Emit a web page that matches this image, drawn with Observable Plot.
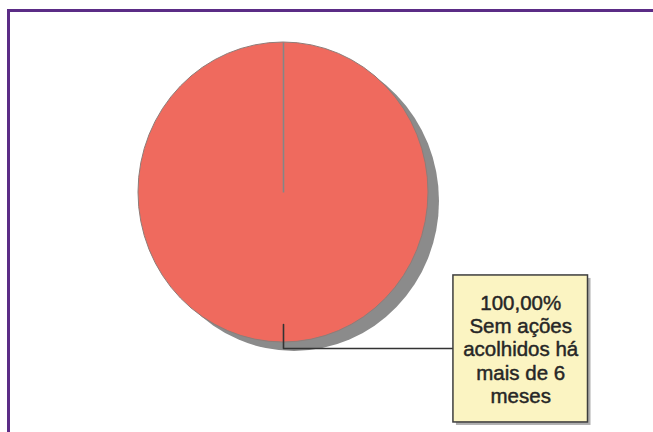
<!DOCTYPE html>
<html><head><meta charset="utf-8">
<script src="https://cdn.jsdelivr.net/npm/d3@7"></script>
<script src="https://cdn.jsdelivr.net/npm/@observablehq/plot@0.6"></script>
<style>
html,body{margin:0;padding:0;background:#fff;overflow:hidden;width:653px;height:432px;}
#wrap{position:relative;width:653px;height:432px;overflow:hidden;}
#chart{position:absolute;left:0;top:0;}
#border{position:absolute;left:7px;top:9px;width:700px;height:500px;border-left:3px solid #5b2c86;border-top:3px solid #5b2c86;box-sizing:border-box;pointer-events:none;}
</style></head><body>
<div id="wrap"><div id="chart"></div><div id="border"></div></div>
<script>
// ---- data ----
const categories = ["Sem ações acolhidos há mais de 6 meses"];
const values = [100];
const percentLabels = ["100,00%"];
const labelText = ["Sem ações\nacolhidos há\nmais de 6\nmeses"];
const colors = ["#ef6a5e"];

// ---- pie geometry (unit radius, angle 0 at top, clockwise) ----
const slices = d3.pie().sort(null)(values).map((s, i) => ({
  ...s, category: categories[i], color: colors[i],
  mid: (s.startAngle + s.endAngle) / 2,
  label: percentLabels[i] + "\n" + labelText[i]
}));
const pt = (a, r) => [r * Math.sin(a), r * Math.cos(a)];

// label box layout (in pie-radius units)
const box = {x1: 1.172, x2: 2.10, y1: -1.533, y2: -0.553};
const leaderIn = 0.88, leaderElbow = 1.04;

const leader = slices.flatMap(s => {
  const a = pt(s.mid, leaderIn), b = pt(s.mid, leaderElbow);
  return [{x: a[0], y: a[1], k: s.category}, {x: b[0], y: b[1], k: s.category}, {x: box.x1, y: b[1], k: s.category}];
});

function pieMark(index, scales) {
  const {x, y} = scales;
  const cx = x(0), cy = y(0), rx = x(1) - x(0), ry = y(0) - y(1);
  const arc = d3.arc().innerRadius(0).outerRadius(1);
  const g = d3.create("svg:g");
  g.append("g")
    .attr("transform", `translate(${cx + 11},${cy + 9}) scale(${rx},${ry})`)
    .selectAll("path").data(slices).join("path")
    .attr("d", arc).attr("fill", "#8b8b8b");
  g.append("g")
    .attr("transform", `translate(${cx},${cy}) scale(${rx},${ry})`)
    .selectAll("path").data(slices).join("path")
    .attr("d", arc).attr("fill", d => d.color)
    .attr("stroke", "#8f7c78").attr("stroke-width", 1)
    .attr("vector-effect", "non-scaling-stroke");
  return g.node();
}

const chart = Plot.plot({
  width: 653,
  height: 432,
  margin: 0,
  style: {background: "transparent"},
  x: {domain: [-1, 1], range: [138, 428], axis: null},
  y: {domain: [-1, 1], range: [342, 42], axis: null},
  marks: [
    pieMark,
    Plot.link(slices, {
      x1: 0, y1: 0,
      x2: d => pt(d.startAngle, 1)[0], y2: d => pt(d.startAngle, 1)[1],
      stroke: "#858585", strokeWidth: 1.6
    }),
    Plot.line(leader, {x: "x", y: "y", z: "k", stroke: "#333", strokeWidth: 1.6, curve: "linear"}),
    Plot.rect(slices, {x1: box.x1, x2: box.x2, y1: box.y1, y2: box.y2, dx: 3, dy: 3, fill: "#9a9a9a", fillOpacity: 0.8}),
    Plot.rect(slices, {x1: box.x1, x2: box.x2, y1: box.y1, y2: box.y2, fill: "#fbf4c2", stroke: "#3d3d3d", strokeWidth: 1.5}),
    Plot.text(slices, {
      x: (box.x1 + box.x2) / 2, y: (box.y1 + box.y2) / 2,
      text: "label", fontSize: 20.5, lineHeight: 1.14,
      fontFamily: "Liberation Sans, Arial, sans-serif",
      fill: "#262626", stroke: "#262626", strokeWidth: 0.45,
      textAnchor: "middle", lineAnchor: "middle"
    })
  ]
});
document.getElementById("chart").appendChild(chart);
</script>
</body></html>
